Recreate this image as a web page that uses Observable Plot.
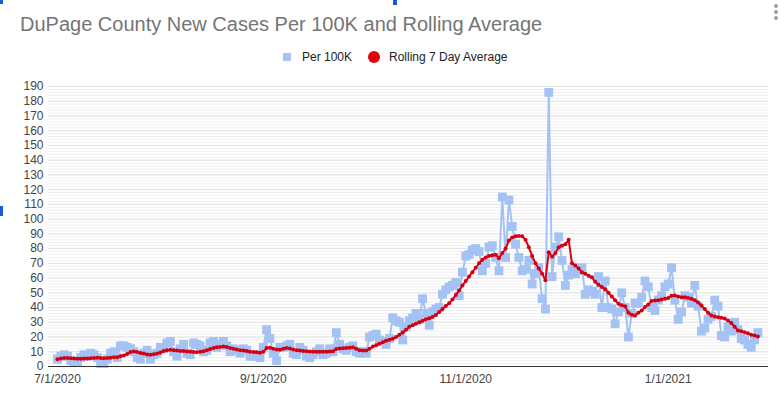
<!DOCTYPE html>
<html><head><meta charset="utf-8">
<script src="https://cdn.jsdelivr.net/npm/d3@7"></script>
<script src="https://cdn.jsdelivr.net/npm/@observablehq/plot@0.6"></script>
<style>
body{margin:0;background:#fff;font-family:Arial,"Liberation Sans",sans-serif;}
#wrap{position:relative;width:784px;height:398px;overflow:hidden;background:#fff;}
#title{position:absolute;left:20px;top:13px;font-size:20px;color:#757575;white-space:nowrap;line-height:23px;}
.lg{position:absolute;top:50px;font-size:12px;line-height:14px;color:#222;white-space:nowrap;}
#sq{position:absolute;left:283px;top:53px;width:8px;height:8px;background:#a4c2f4;}
#ci{position:absolute;left:368px;top:51px;width:12px;height:12px;border-radius:50%;background:#e8000f;}
#chart{position:absolute;left:0;top:70px;}
.h{position:absolute;background:#1a5ad8;}
.md{position:absolute;left:774px;width:4px;height:4px;border-radius:50%;background:#9e9e9e;}
</style></head>
<body>
<div id="wrap">
  <div class="h" style="left:0;top:0;width:3px;height:4px"></div>
  <div class="h" style="left:393px;top:0;width:4px;height:5px"></div>
  <div class="h" style="left:0;top:206px;width:3px;height:10px"></div>
  <div class="md" style="top:4px"></div>
  <div class="md" style="top:10px"></div>
  <div class="md" style="top:16px"></div>
  <div id="title">DuPage County New Cases Per 100K and Rolling Average</div>
  <div id="sq"></div><div class="lg" style="left:302px">Per 100K</div>
  <div id="ci"></div><div class="lg" style="left:389px">Rolling 7 Day Average</div>
  <div id="chart"></div>
</div>
<script>
const startDate = "2020-07-01";
const per100k = [
  5, 7, 8, 7, 4, 3, 3, 6, 8, 7,
  9, 8, 6, 2, 2, 5, 9, 10, 6, 14,
  14, 13, 12, 10, 6, 5, 9, 11, 5, 8,
  9, 13, 12, 16, 17, 10, 7, 12, 15, 9,
  8, 16, 15, 14, 10, 11, 16, 17, 13, 15,
  17, 14, 10, 12, 11, 9, 12, 11, 7, 7,
  8, 6, 13, 25, 19, 9, 4, 13, 13, 14,
  15, 9, 8, 13, 11, 7, 6, 8, 10, 12,
  8, 9, 12, 10, 23, 15, 12, 11, 13, 14,
  10, 9, 10, 9, 20, 21, 22, 18, 17, 15,
  19, 33, 31, 30, 18, 27, 31, 33, 36, 32,
  46, 36, 28, 37, 39, 40, 49, 52, 54, 55,
  57, 48, 64, 75, 76, 79, 80, 78, 65, 70,
  81, 82, 74, 65, 115, 74, 113, 95, 83, 74,
  65, 66, 72, 56, 63, 67, 46, 39, 186, 61,
  81, 88, 72, 55, 62, 66, 63, 65, 67, 49,
  52, 51, 49, 61, 40, 58, 40, 39, 29, 37,
  50, 40, 20, 36, 43, 43, 47, 58, 54, 40,
  38, 45, 48, 54, 56, 67, 45, 32, 37, 48,
  47, 43, 55, 41, 24, 26, 32, 34, 45, 41,
  21, 20, 27, 24, 30, 25, 19, 18, 15, 13, 18, 23
];
const rolling7 = [
  5.0, 5.5, 5.8, 5.8, 5.6, 5.4, 5.2, 5.3, 5.5, 5.5,
  5.6, 5.8, 6.0, 5.8, 5.6, 5.8, 6.0, 6.2, 6.3, 7.0,
  7.5, 8.5, 9.8, 10.2, 9.8, 9.2, 8.8, 8.2, 8.0, 8.3,
  8.8, 9.5, 10.5, 11.0, 11.3, 11.0, 10.8, 10.6, 10.5, 10.2,
  10.0, 9.8, 9.7, 10.0, 10.4, 11.0, 11.8, 12.5, 13.0, 13.3,
  13.6, 13.2, 12.6, 12.0, 11.5, 11.0, 10.8, 10.5, 10.0, 9.8,
  9.6, 9.4, 10.0, 12.5, 12.8, 12.0, 11.5, 11.3, 12.0, 12.5,
  12.2, 11.5, 11.0, 10.8, 10.6, 10.4, 10.2, 10.0, 10.0, 10.0,
  10.0, 10.0, 10.2, 10.4, 11.8, 12.2, 12.4, 12.6, 12.8, 13.0,
  12.0, 11.0, 10.8, 10.8, 12.0, 13.5, 14.5, 15.5, 16.5, 17.5,
  18.2, 18.8, 20.0, 21.5, 23.0, 25.0, 27.0, 28.0, 29.0, 30.0,
  31.0, 32.0, 32.8, 33.6, 35.0, 37.0, 39.0, 41.0, 43.0, 45.5,
  48.5, 51.5, 55.0, 58.0, 61.0, 64.0, 67.0, 70.0, 72.5, 74.0,
  75.0, 75.5, 75.8, 73.5, 77.0, 80.0, 85.5, 87.5, 88.3, 88.5,
  88.3, 86.0, 81.0, 75.0, 70.0, 66.5, 63.0, 58.5, 77.5, 74.5,
  77.0, 81.0, 82.0, 83.0, 86.0, 70.0, 68.6, 66.5, 64.0, 63.0,
  61.5, 60.5, 57.5, 55.5, 54.0, 52.5, 50.0, 47.5, 45.0, 42.6,
  41.5, 40.8, 36.5, 35.2, 34.6, 36.5, 38.0, 40.3, 42.0, 44.5,
  44.8, 45.0, 45.5, 46.0, 46.5, 48.0, 48.2, 47.5, 47.0, 47.0,
  46.5, 46.0, 45.0, 43.5, 41.4, 39.0, 36.5, 34.6, 34.0, 33.5,
  33.0, 32.5, 31.2, 29.5, 27.0, 24.5, 24.0, 23.3, 22.5, 21.5, 21.0, 20.4
];
const tickDates = ["2020-07-01", "2020-09-01", "2020-11-01", "2021-01-01"];
const tickLabels = ["7/1/2020", "9/1/2020", "11/1/2020", "1/1/2021"];
const yTicks = d3.range(0, 191, 10);

const t0 = +new Date(startDate);
const data = per100k.map((v, i) => ({date: new Date(t0 + i * 864e5), p: v, r: rolling7[i]}));
const tickObjs = tickDates.map(d => new Date(d));

const chart = Plot.plot({
  width: 784, height: 328,
  marginTop: 16, marginBottom: 32, marginLeft: 48, marginRight: 16,
  style: {fontFamily: "Arial, 'Liberation Sans', sans-serif", fontSize: "12px", color: "#444", background: "transparent"},
  x: {type: "utc", domain: [new Date(Date.UTC(2020, 5, 28, 7)), new Date(Date.UTC(2021, 0, 31, 5))],
      ticks: tickObjs, tickFormat: d => tickLabels[tickObjs.findIndex(t => +t === +d)], tickSize: 0, tickPadding: 8, label: null},
  y: {domain: [0, 190], ticks: yTicks, tickSize: 0, tickPadding: 5, label: null},
  marks: [
    Plot.ruleY(d3.range(0, 191, 2), {stroke: "#f0f0f0"}),
    Plot.ruleY(yTicks.slice(1), {stroke: "#e3e3e3"}),
    Plot.line(data, {x: "date", y: "p", stroke: "#a4c2f4", strokeWidth: 2}),
    Plot.dot(data, {x: "date", y: "p", symbol: "square", fill: "#a4c2f4", r: 5}),
    Plot.line(data, {x: "date", y: "r", stroke: "#e00012", strokeWidth: 2}),
    Plot.dot(data, {x: "date", y: "r", fill: "#d40012", r: 2}),
    Plot.ruleY([0], {stroke: "#333"})
  ]
});
document.getElementById("chart").appendChild(chart);
</script>
</body></html>
